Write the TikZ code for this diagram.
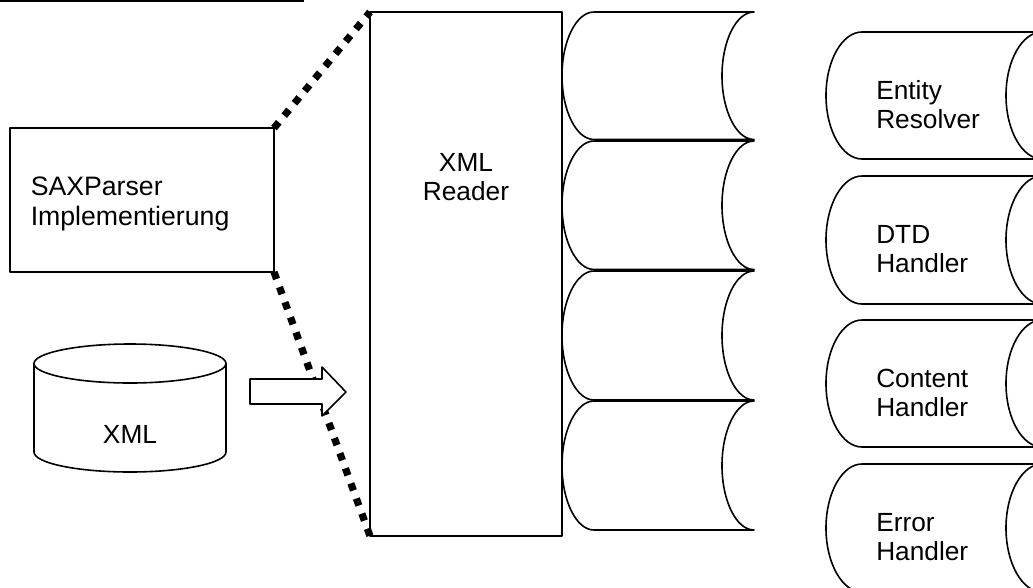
\documentclass[tikz,border=0pt]{standalone}
\usepackage{fontspec}
\setmainfont{Liberation Sans}
\newcommand{\drumshape}[5]{% x, y, w, h, c
  \pgfmathsetmacro{\dx}{#1}\pgfmathsetmacro{\dy}{#2}
  \pgfmathsetmacro{\dr}{#1+#3}\pgfmathsetmacro{\db}{#2+#4}
  \pgfmathsetmacro{\dm}{#2+#4/2}\pgfmathsetmacro{\dc}{#1+#5}
  \pgfmathsetmacro{\di}{#1+#3-#5}
  \pgfmathsetmacro{\ka}{0.55*#5}\pgfmathsetmacro{\kb}{0.275*#4}
  \draw[shapeline,fill=white] (\dc,\dy) -- (\dr,\dy)
    .. controls (\dr-\ka,\dy) and (\di,\dm-\kb) .. (\di,\dm)
    .. controls (\di,\dm+\kb) and (\dr-\ka,\db) .. (\dr,\db)
    -- (\dc,\db)
    .. controls (\dc-\ka,\db) and (\dx,\dm+\kb) .. (\dx,\dm)
    .. controls (\dx,\dm-\kb) and (\dc-\ka,\dy) .. (\dc,\dy) -- cycle;
}
\tikzset{
  shapeline/.style={draw=black,line width=1.2pt,line join=round},
  boxnode/.style={shapeline,fill=white,rectangle,inner sep=0pt,outer sep=0pt,anchor=north west},
  dotline/.style={line width=5.4pt,dash pattern=on 5.6pt off 6.45pt,draw=black},
  labeltext/.style={font=\fontsize{19.7}{21.9}\selectfont,inner sep=0pt,align=left,anchor=west,text=black}
}
\begin{document}
\begin{tikzpicture}[x=0.75pt,y=-0.75pt]
\useasboundingbox (0,0) rectangle (1033,587);
\clip (0,0) rectangle (1033,587);
\coordinate (topa) at (0,1);
\coordinate (topb) at (304,1);
\draw[black,line width=2pt] (topa) -- (topb);

\node[boxnode,minimum width=198pt,minimum height=108pt] (sax) at (10,128) {};
\node[boxnode,minimum width=144pt,minimum height=393pt] (reader) at (370,12) {};

\draw[dotline] (sax.north east) -- (reader.north west);
\draw[dotline] (sax.south east) -- (reader.south west);

\drumshape{562}{12}{192}{127.5}{32}
\drumshape{562}{141}{192}{128.5}{32}
\drumshape{562}{271}{192}{129}{32}
\drumshape{562}{401}{192}{129}{32}

\drumshape{826}{32}{216}{127}{36}
\drumshape{826}{176}{216}{128}{36}
\drumshape{826}{320}{216}{127}{36}
\drumshape{826}{464}{216}{128}{36}

% cylinder
\draw[shapeline,fill=white] (34,363.5) -- (34,452)
  .. controls (34,463) and (77,472) .. (130,472)
  .. controls (183,472) and (226,463) .. (226,452) -- (226,363.5);
\draw[shapeline,fill=white] (130,344)
  .. controls (183,344) and (226,353) .. (226,363.5)
  .. controls (226,374) and (183,383) .. (130,383)
  .. controls (77,383) and (34,374) .. (34,363.5)
  .. controls (34,353) and (77,344) .. (130,344) -- cycle;

% block arrow
\draw[shapeline,fill=white] (250,379) -- (322,379) -- (322,367) -- (346,392)
  -- (322,416) -- (322,404) -- (250,404) -- cycle;

\node[labeltext,font=\fontsize{20}{22}\selectfont] (saxtext) at (30.5,204) {SAXParser\\Implementierung};
\node[labeltext,align=center,anchor=center] (readertext) at (466,177) {XML\\Reader};
\node[labeltext,align=center,anchor=center] (xmltext) at (130,434) {XML};
\node[labeltext] (t1) at (876,105) {Entity\\Resolver};
\node[labeltext] (t2) at (876,249) {DTD\\Handler};
\node[labeltext] (t3) at (876,393) {Content\\Handler};
\node[labeltext] (t4) at (876,537) {Error\\Handler};
\end{tikzpicture}
\end{document}
